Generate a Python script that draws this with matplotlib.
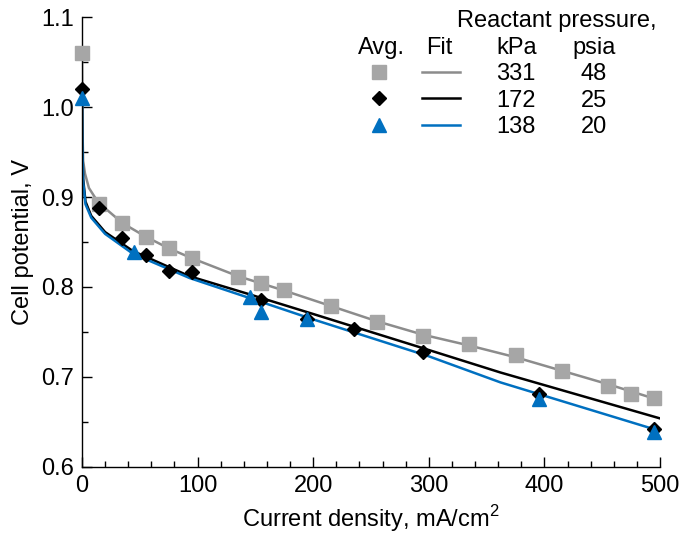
import matplotlib
matplotlib.use("Agg")
import matplotlib.pyplot as plt
from matplotlib.lines import Line2D
from matplotlib.ticker import MultipleLocator, FormatStrFormatter

plt.rcParams['font.family'] = ['Liberation Sans', 'DejaVu Sans']
plt.rcParams['mathtext.fontset'] = 'custom'
plt.rcParams['mathtext.rm'] = 'Liberation Sans'

# Data: averaged measurements
sq_x = [0, 15, 35, 55, 75, 95, 135, 155, 175, 215, 255, 295, 335, 375, 415, 455, 475, 495]
sq_y = [1.06, 0.892, 0.871, 0.856, 0.843, 0.832, 0.811, 0.805, 0.797, 0.779, 0.761, 0.746,
        0.737, 0.724, 0.707, 0.690, 0.681, 0.677]
di_x = [0, 15, 35, 55, 75, 95, 155, 195, 235, 295, 395, 495]
di_y = [1.02, 0.888, 0.854, 0.836, 0.818, 0.817, 0.786, 0.765, 0.753, 0.728, 0.681, 0.642]
tr_x = [0, 45, 145, 155, 195, 395, 495]
tr_y = [1.01, 0.839, 0.789, 0.772, 0.765, 0.676, 0.639]

# Fit curves
fit_gray_x = [0, 0.5, 1, 2.6, 6, 11, 15, 35, 55, 75, 95, 135, 155, 175, 215, 255, 295, 335, 375, 415, 455, 475, 495]
fit_gray_y = [1.06, 0.97, 0.94, 0.926, 0.91, 0.90, 0.893, 0.871, 0.856, 0.843, 0.832, 0.812, 0.804,
              0.796, 0.779, 0.762, 0.747, 0.735, 0.722, 0.707, 0.692, 0.684, 0.676]
fit_black_x = [0, 0.3, 1, 3, 8, 20, 44, 93, 142, 200, 300, 362, 500]
fit_black_y = [1.02, 0.96, 0.92, 0.895, 0.879, 0.861, 0.840, 0.812, 0.793, 0.770, 0.730, 0.705, 0.654]
fit_blue_x = [0, 0.3, 1, 3, 8, 20, 44, 93, 142, 200, 300, 362, 500]
fit_blue_y = [1.01, 0.955, 0.917, 0.892, 0.877, 0.859, 0.837, 0.810, 0.789, 0.764, 0.723, 0.694, 0.640]

legend_kpa = ['331', '172', '138']
legend_psia = ['48', '25', '20']

GRAY_M = '#a6a6a6'
GRAY_L = '#8c8c8c'
BLUE = '#0070c0'
FS = 17

fig = plt.figure(figsize=(6.82, 5.33), dpi=100)
ax = fig.add_axes([82/682, 1-467/533, (660-82)/682, (467-17)/533])

ax.plot(fit_gray_x, fit_gray_y, color=GRAY_L, lw=1.8, zorder=2)
ax.plot(fit_black_x, fit_black_y, color='black', lw=1.8, zorder=2)
ax.plot(fit_blue_x, fit_blue_y, color=BLUE, lw=1.8, zorder=2)
ax.plot(sq_x, sq_y, ls='none', marker='s', ms=9.5, color=GRAY_M, zorder=3, clip_on=False)
ax.plot(di_x, di_y, ls='none', marker='D', ms=7.5, color='black', zorder=4, clip_on=False)
ax.plot(tr_x, tr_y, ls='none', marker='^', ms=9.5, color=BLUE, zorder=5, clip_on=False)

ax.set_xlim(0, 500)
ax.set_ylim(0.6, 1.1)
ax.xaxis.set_major_locator(MultipleLocator(100))
ax.xaxis.set_minor_locator(MultipleLocator(20))
ax.yaxis.set_major_locator(MultipleLocator(0.1))
ax.yaxis.set_minor_locator(MultipleLocator(0.05))
ax.yaxis.set_major_formatter(FormatStrFormatter('%.1f'))
for s in ['top', 'right']:
    ax.spines[s].set_visible(False)
for s in ['left', 'bottom']:
    ax.spines[s].set_linewidth(1.0)
ax.tick_params(which='both', direction='in', width=1.0, labelsize=FS)
ax.tick_params(which='major', length=7)
ax.tick_params(which='minor', length=4.5)
ax.tick_params(axis='x', which='major', pad=5.5)
ax.tick_params(axis='y', which='major', pad=6)
ax.set_xlabel('Current density, mA/cm$^{2}$', fontsize=FS, labelpad=5)
ax.set_ylabel('Cell potential, V', fontsize=FS, labelpad=5)

# Legend table
def fx(px):
    return px / 682
def fy(py):
    return 1 - py / 533

fig.text(fx(557), fy(27), 'Reactant pressure,', fontsize=FS, ha='center', va='baseline')
fig.text(fx(381), fy(54), 'Avg.', fontsize=FS, ha='center', va='baseline')
fig.text(fx(439), fy(54), 'Fit', fontsize=FS, ha='center', va='baseline')
fig.text(fx(517), fy(54), 'kPa', fontsize=FS, ha='center', va='baseline')
fig.text(fx(594), fy(54), 'psia', fontsize=FS, ha='center', va='baseline')

rows_mid = [72, 98, 125]
rows_base = [80, 107, 133]
markers = [('s', GRAY_M, 9.5), ('D', 'black', 7.5), ('^', BLUE, 9.5)]
lcolors = [GRAY_L, 'black', BLUE]
for i in range(3):
    m, c, ms = markers[i]
    fig.add_artist(Line2D([fx(379)], [fy(rows_mid[i])], marker=m, color=c, ms=ms, ls='none'))
    fig.add_artist(Line2D([fx(422), fx(460)], [fy(rows_mid[i]), fy(rows_mid[i])],
                          color=lcolors[i], lw=1.8))
    fig.text(fx(516), fy(rows_base[i]), legend_kpa[i], fontsize=FS, ha='center', va='baseline')
    fig.text(fx(594), fy(rows_base[i]), legend_psia[i], fontsize=FS, ha='center', va='baseline')

fig.savefig('out.png', dpi=100)
